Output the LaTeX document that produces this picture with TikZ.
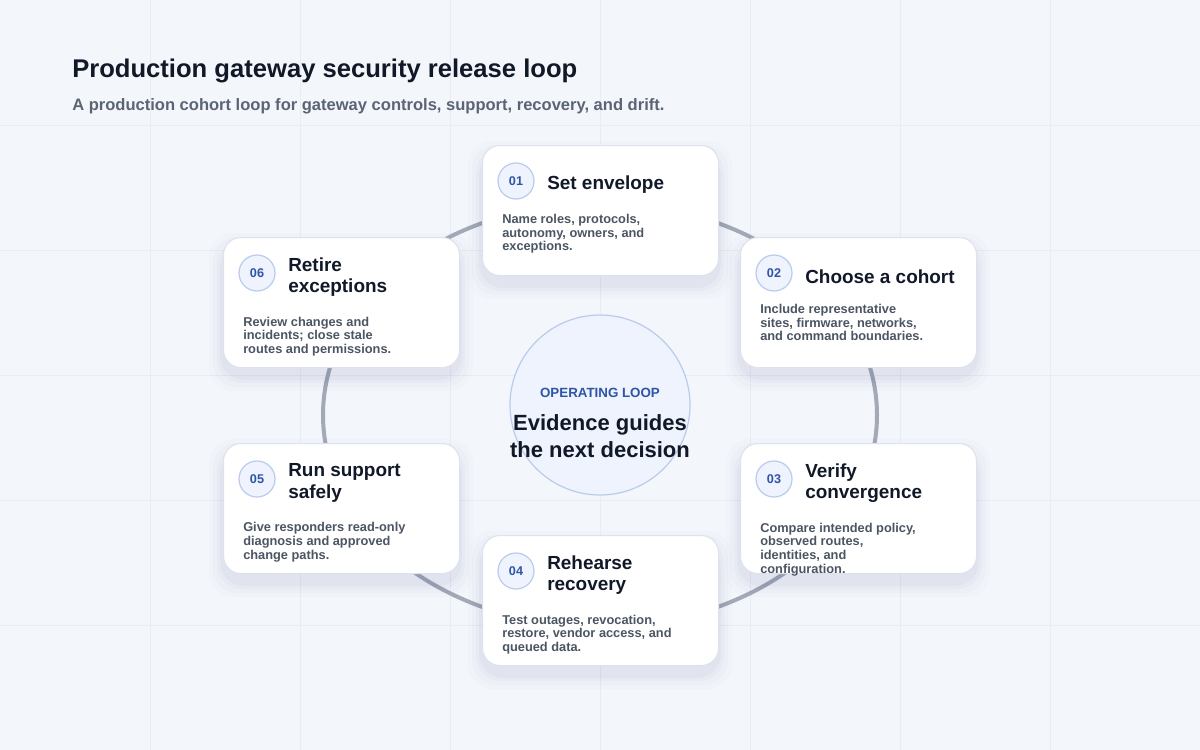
\documentclass[tikz,border=0pt]{standalone}
\usepackage{fontspec}
\setmainfont{Liberation Sans}
\usetikzlibrary{positioning,shapes.geometric}
\definecolor{bg}{HTML}{F3F6FB}
\definecolor{grid}{HTML}{E8ECF3}
\definecolor{ink}{HTML}{111827}
\definecolor{sub}{HTML}{5B6474}
\definecolor{body}{HTML}{4B5563}
\definecolor{ring}{HTML}{A3A9B6}
\definecolor{badgefill}{HTML}{EEF3FD}
\definecolor{badgeline}{HTML}{BACBEB}
\definecolor{badgetext}{HTML}{2E55A6}
\definecolor{cardline}{HTML}{DDE3EC}
\tikzset{
  x=0.75pt,y=-0.75pt,
  card/.style={draw=cardline,line width=0.8pt,fill=white,rounded corners=13pt,minimum width=177pt,minimum height=97.5pt,inner sep=0pt},
  badge/.style={circle,draw=badgeline,line width=0.9pt,fill=badgefill,minimum size=27pt,inner sep=0pt,text=badgetext,font=\bfseries\fontsize{9.5}{10}\selectfont},
  ctitle/.style={anchor=west,align=left,text=ink,font=\bfseries\fontsize{14.2}{16}\selectfont,inner sep=0pt},
  cbody/.style={anchor=north west,align=left,text=body,font=\bfseries\fontsize{9.6}{10.2}\selectfont,inner sep=0pt},
}
\newcommand{\mycard}[6]{%
  \foreach \k/\op in {14/0.012,10/0.015,6/0.02,3/0.025}{
    \fill[black!60!blue,opacity=\op,rounded corners=18pt] (#2-\k,#3-\k+10) rectangle (#2+236+\k,#3+130+\k+10);
  }
  \node[card,anchor=north west] (#1) at (#2,#3) {};
  \node[badge] (#1b) at (#2+34,#3+36) {#4};
  \node[ctitle] (#1t) at (#2+65,#3+40) {#5};
  \path (#1t.south) ++(0,20) coordinate (#1y);
  \coordinate (#1x) at (#2+20,#3);
  \node[cbody] (#1e) at (#1y -| #1x) {#6};
}
\begin{document}
\begin{tikzpicture}
\useasboundingbox (0,0) rectangle (1200,750);
\fill[bg] (0,0) rectangle (1200,750);
\foreach \gx in {150,300,...,1050} \draw[grid,line width=0.6pt] (\gx,0) -- (\gx,750);
\foreach \gy in {125,250,...,625} \draw[grid,line width=0.6pt] (0,\gy) -- (1200,\gy);
\node[anchor=west,text=ink,font=\bfseries\fontsize{19.2}{22}\selectfont,inner sep=0pt] (title) at (72,71) {Production gateway security release loop};
\node[anchor=west,text=sub,font=\bfseries\fontsize{12.4}{14}\selectfont,inner sep=0pt] (subtitle) at (72,106) {A production cohort loop for gateway controls, support, recovery, and drift.};
\node[ellipse,draw=ring,line width=3pt,minimum width=415.5pt,minimum height=318pt,inner sep=0pt] (loop) at (600,415) {};
\node[circle,draw=badgeline,line width=0.9pt,fill=badgefill,minimum size=135pt,inner sep=0pt] (hub) at (600,405) {};
\node[text=badgetext,font=\bfseries\fontsize{10}{12}\selectfont,inner sep=0pt] (hubk) at (600,393) {OPERATING LOOP};
\node[text=ink,align=center,font=\bfseries\fontsize{16.5}{20}\selectfont,inner sep=0pt] (hubt) at (600,436) {Evidence guides\\the next decision};
\mycard{c1}{482}{145}{01}{Set envelope}{Name roles, protocols,\\autonomy, owners, and\\exceptions.}
\mycard{c2}{740}{237}{02}{Choose a cohort}{Include representative\\sites, firmware, networks,\\and command boundaries.}
\mycard{c3}{740}{443}{03}{Verify\\convergence}{Compare intended policy,\\observed routes,\\identities, and\\configuration.}
\mycard{c4}{482}{535}{04}{Rehearse\\recovery}{Test outages, revocation,\\restore, vendor access, and\\queued data.}
\mycard{c5}{223}{443}{05}{Run support\\safely}{Give responders read-only\\diagnosis and approved\\change paths.}
\mycard{c6}{223}{237}{06}{Retire\\exceptions}{Review changes and\\incidents; close stale\\routes and permissions.}
\end{tikzpicture}
\end{document}
